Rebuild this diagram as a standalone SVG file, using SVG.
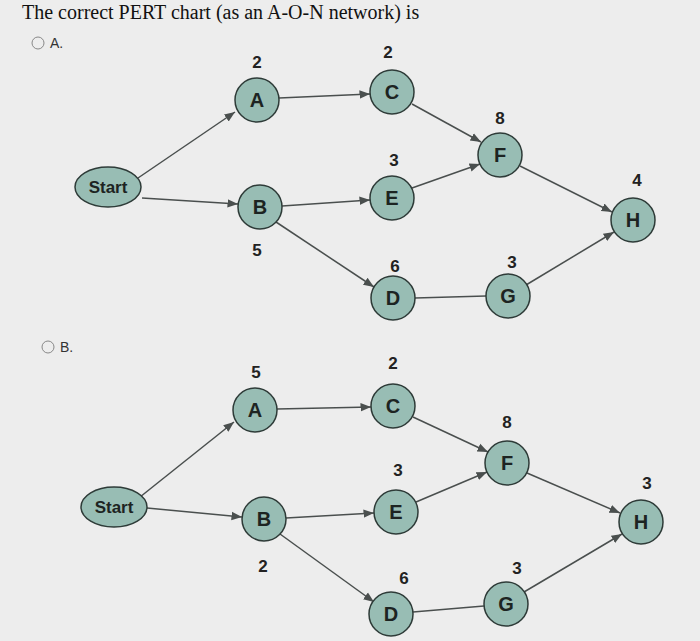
<svg xmlns="http://www.w3.org/2000/svg" width="700" height="641" viewBox="0 0 700 641">
<style>
.n{fill:#98bdb4;stroke:#2e3b38;stroke-width:1.5}
.t{font-family:"Liberation Sans",Arial,sans-serif;font-weight:bold;font-size:20px;fill:#1d2422;text-anchor:middle}
.w{font-family:"Liberation Sans",Arial,sans-serif;font-weight:bold;font-size:17px;fill:#1d2422;text-anchor:middle}
.d{font-family:"Liberation Sans",Arial,sans-serif;font-weight:bold;font-size:17px;fill:#222;text-anchor:middle}
.e{stroke:#4a4f4e;stroke-width:1.5;fill:none}
.a{marker-end:url(#ar)}
.h{font-family:"Liberation Serif","Times New Roman",serif;font-size:20px;fill:#111}
.o{font-family:"Liberation Sans",Arial,sans-serif;font-size:14px;fill:#333}
</style>
<defs><marker id="ar" viewBox="0 0 10 10" refX="10" refY="5" markerWidth="7" markerHeight="7" orient="auto"><path d="M0,1L10,5L0,9z" fill="#4a4f4e"/></marker></defs>
<rect width="700" height="641" fill="#ededed"/>
<text class="h" x="22" y="19">The correct PERT chart (as an A-O-N network) is</text>
<circle cx="38" cy="43" r="6" fill="none" stroke="#888"/><text class="o" x="50" y="48">A.</text>
<circle cx="48" cy="347" r="6" fill="none" stroke="#888"/><text class="o" x="60" y="352">B.</text>
<g id="connectors">
<line class="e a" x1="138" y1="178" x2="235" y2="112"/>
<line class="e a" x1="142" y1="198" x2="238" y2="204"/>
<line class="e a" x1="279" y1="98" x2="370" y2="94"/>
<line class="e a" x1="412" y1="104" x2="481" y2="142"/>
<line class="e a" x1="282" y1="206" x2="370" y2="200"/>
<line class="e a" x1="276" y1="222" x2="374" y2="287"/>
<line class="e a" x1="412" y1="188" x2="480" y2="164"/>
<line class="e a" x1="520" y1="166" x2="612" y2="212"/>
<line class="e" x1="415" y1="298" x2="486" y2="296"/>
<line class="e a" x1="526" y1="285" x2="614" y2="232"/>
<line class="e a" x1="140" y1="497" x2="234" y2="422"/>
<line class="e a" x1="147" y1="508" x2="242" y2="517"/>
<line class="e a" x1="277" y1="409" x2="371" y2="407"/>
<line class="e a" x1="413" y1="417" x2="488" y2="452"/>
<line class="e a" x1="286" y1="518" x2="374" y2="513"/>
<line class="e a" x1="280" y1="534" x2="374" y2="602"/>
<line class="e a" x1="416" y1="502" x2="487" y2="472"/>
<line class="e a" x1="527" y1="473" x2="620" y2="513"/>
<line class="e" x1="413" y1="612" x2="484" y2="606"/>
<line class="e a" x1="524" y1="592" x2="622" y2="534"/>
</g>
<g id="A1"><circle class="n" cx="257" cy="100" r="22"/><text class="t" x="257" y="107">A</text><text class="d" x="257" y="68">2</text></g>
<g id="C1"><circle class="n" cx="392" cy="92" r="22"/><text class="t" x="392" y="99">C</text><text class="d" x="388" y="58">2</text></g>
<g id="S1"><ellipse class="n" cx="108" cy="187" rx="33" ry="20"/><text class="w" x="108" y="193">Start</text></g>
<g id="B1"><circle class="n" cx="260" cy="207" r="22"/><text class="t" x="260" y="214">B</text><text class="d" x="257" y="256">5</text></g>
<g id="E1"><circle class="n" cx="392" cy="198" r="22"/><text class="t" x="392" y="205">E</text><text class="d" x="394" y="166">3</text></g>
<g id="F1"><circle class="n" cx="500" cy="155" r="22"/><text class="t" x="500" y="162">F</text><text class="d" x="500" y="124">8</text></g>
<g id="D1"><circle class="n" cx="393" cy="298" r="22"/><text class="t" x="393" y="305">D</text><text class="d" x="395" y="272">6</text></g>
<g id="G1"><circle class="n" cx="508" cy="296" r="22"/><text class="t" x="508" y="303">G</text><text class="d" x="512" y="268">3</text></g>
<g id="H1"><circle class="n" cx="633" cy="220" r="22"/><text class="t" x="633" y="227">H</text><text class="d" x="637" y="186">4</text></g>
<g id="A2"><circle class="n" cx="255" cy="410" r="22"/><text class="t" x="255" y="417">A</text><text class="d" x="256" y="378">5</text></g>
<g id="C2"><circle class="n" cx="393" cy="406" r="22"/><text class="t" x="393" y="413">C</text><text class="d" x="393" y="369">2</text></g>
<g id="S2"><ellipse class="n" cx="114" cy="507" rx="33" ry="20"/><text class="w" x="114" y="513">Start</text></g>
<g id="B2"><circle class="n" cx="264" cy="519" r="22"/><text class="t" x="264" y="526">B</text><text class="d" x="263" y="572">2</text></g>
<g id="E2"><circle class="n" cx="396" cy="512" r="22"/><text class="t" x="396" y="519">E</text><text class="d" x="398" y="476">3</text></g>
<g id="F2"><circle class="n" cx="507" cy="463" r="22"/><text class="t" x="507" y="470">F</text><text class="d" x="507" y="428">8</text></g>
<g id="D2"><circle class="n" cx="391" cy="614" r="22"/><text class="t" x="391" y="621">D</text><text class="d" x="404" y="584">6</text></g>
<g id="G2"><circle class="n" cx="506" cy="604" r="22"/><text class="t" x="506" y="611">G</text><text class="d" x="517" y="574">3</text></g>
<g id="H2"><circle class="n" cx="641" cy="522" r="22"/><text class="t" x="641" y="529">H</text><text class="d" x="647" y="489">3</text></g>
</svg>
